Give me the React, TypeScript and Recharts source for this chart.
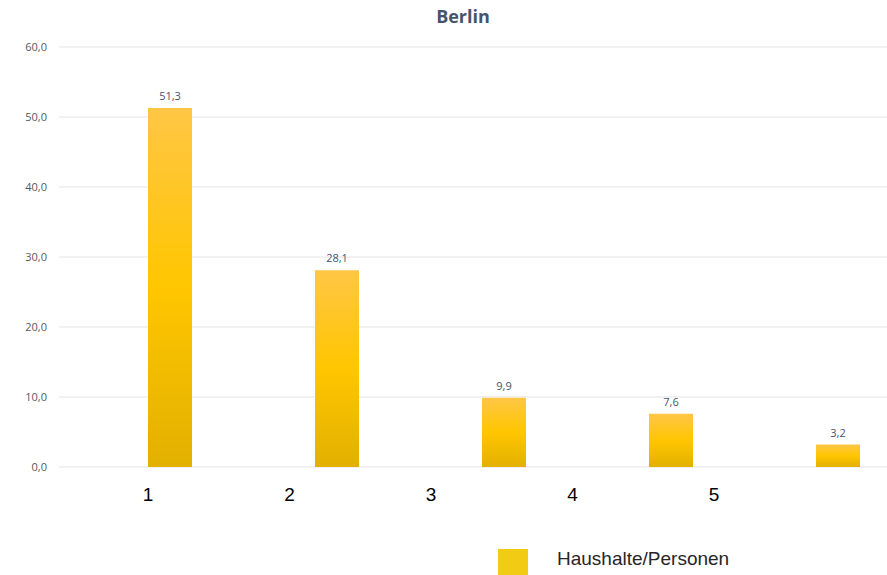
import { BarChart, Bar, XAxis, YAxis, CartesianGrid, Legend, LabelList } from 'recharts';

// Haushaltsgrößen in Berlin (Anteil in %)
const categories = ['1', '2', '3', '4', '5'];
const shares = [51.3, 28.1, 9.9, 7.6, 3.2];
const yTicks = [0, 10, 20, 30, 40, 50, 60];
const boundaryTicks = [1, 2, 3, 4];
const labelTicks = [1, 2, 3, 4, 5];

const data = categories.map((name, i) => ({
  name,
  pos: Number(name),
  spacer: 0,
  share: shares[i],
}));

const fmt = (v: number) => Number(v).toFixed(1).replace('.', ',');

const LegendContent = () => (
  <div style={{ position: 'relative', width: 300, height: 30 }}>
    <div style={{ position: 'absolute', left: 0, top: 0, width: 30, height: 28, background: '#F2CB14' }} />
    <span
      style={{
        position: 'absolute',
        left: 59,
        top: -1,
        fontFamily: '"Liberation Sans", Arial, sans-serif',
        fontSize: 19,
        color: '#262626',
        whiteSpace: 'nowrap',
      }}
    >
      Haushalte/Personen
    </span>
  </div>
);

export default function App() {
  return (
    <div style={{ position: 'fixed', left: 0, top: 0, width: 887, height: 575, overflow: 'hidden', background: '#fff' }}>
      <div
        style={{
          position: 'absolute',
          top: 4,
          left: 0,
          width: 926,
          textAlign: 'center',
          fontFamily: '"Open Sans", sans-serif',
          fontWeight: 700,
          fontSize: 18,
          lineHeight: '24px',
          color: '#44546A',
        }}
      >
        Berlin
      </div>
      <BarChart
        width={900}
        height={575}
        data={data}
        margin={{ top: 47, right: 6, left: 0, bottom: 33 }}
        barGap={11}
        barSize={44}
      >
        <defs>
          <linearGradient id="barFill" x1="0" y1="0" x2="0" y2="1">
            <stop offset="0%" stopColor="#FFC646" />
            <stop offset="50%" stopColor="#FFC600" />
            <stop offset="100%" stopColor="#E2B000" />
          </linearGradient>
        </defs>
        <CartesianGrid vertical={false} stroke="#E3E3E3" />
        <YAxis
          width={59}
          domain={[0, 60]}
          ticks={yTicks}
          tickFormatter={fmt}
          axisLine={false}
          tickLine={false}
          tickSize={0}
          tickMargin={12}
          tick={{ fontSize: 11, fill: '#595959', fontFamily: '"Open Sans", sans-serif' }}
        />
        <XAxis
          xAxisId="cat"
          dataKey="name"
          height={0}
          tick={false}
          tickLine={false}
          axisLine={{ stroke: '#D9D9D9' }}
        />
        <XAxis
          xAxisId="bounds"
          dataKey="pos"
          type="number"
          domain={[0, 5]}
          allowDataOverflow
          ticks={boundaryTicks}
          height={5}
          tick={false}
          tickSize={5}
          tickLine={{ stroke: '#D9D9D9' }}
          axisLine={false}
        />
        <XAxis
          xAxisId="labels"
          dataKey="pos"
          type="number"
          domain={[0.371, 6.272]}
          allowDataOverflow
          ticks={labelTicks}
          height={40}
          tickSize={0}
          tickMargin={16}
          tickLine={false}
          axisLine={false}
          tick={{ fontSize: 19, fill: '#000000', fontFamily: '"Liberation Sans", Arial, sans-serif' }}
        />
        <Legend
          verticalAlign="bottom"
          content={<LegendContent />}
          wrapperStyle={{ position: 'absolute', left: 498, top: 549, width: 300, height: 30 }}
        />
        <Bar xAxisId="cat" dataKey="spacer" fill="transparent" legendType="none" isAnimationActive={false} />
        <Bar xAxisId="cat" dataKey="share" name="Haushalte/Personen" fill="url(#barFill)" isAnimationActive={false}>
          <LabelList
            dataKey="share"
            position="top"
            offset={8}
            formatter={(v: any) => fmt(v)}
            style={{ fontSize: 11, fill: '#44546A', fontFamily: '"Open Sans", sans-serif' }}
          />
        </Bar>
      </BarChart>
    </div>
  );
}
